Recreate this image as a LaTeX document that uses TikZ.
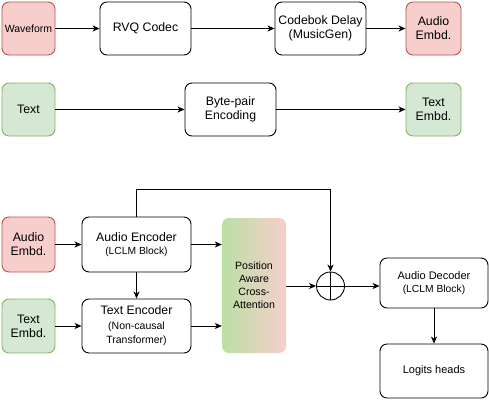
\documentclass[tikz,border=0pt]{standalone}
\usepackage{fontspec}
\setmainfont{Liberation Sans}
\usetikzlibrary{arrows.meta,positioning}
\definecolor{redF}{HTML}{F8CECC}
\definecolor{redD}{HTML}{B85450}
\definecolor{grnF}{HTML}{D5E8D4}
\definecolor{grnD}{HTML}{82B366}
\definecolor{gradG}{HTML}{B9E0A5}
\tikzset{
  box/.style={draw=black, line width=0.9pt, rounded corners=7pt, align=center, inner sep=0pt, font=\fontsize{12.3}{14}\selectfont},
  redbox/.style={box, draw=redD, fill=redF},
  grnbox/.style={box, draw=grnD, fill=grnF},
  arr/.style={-{Stealth[length=7pt,width=6pt,inset=2pt]}, line width=0.9pt},
  sub/.style={font=\fontsize{10.5}{12.5}\selectfont},
}
\begin{document}
\begin{tikzpicture}[x=1pt,y=-1pt]
\useasboundingbox (0,0) rectangle (489,402);
% row 1
\node[redbox, minimum width=53pt, minimum height=53pt, font=\fontsize{10.5}{12.5}\selectfont] (wave) at (28.5,28.5) {Waveform};
\node[box, minimum width=91pt, minimum height=53pt] (rvq) at (145.5,28.5) {RVQ Codec};
\node[box, minimum width=91pt, minimum height=53pt] (delay) at (320.5,28.5) {Codebok Delay\\(MusicGen)};
\node[redbox, minimum width=55pt, minimum height=53pt] (aemb) at (433.5,28.5) {Audio\\Embd.};
% row 2
\node[grnbox, minimum width=53pt, minimum height=53pt] (text) at (28.5,109.5) {Text};
\node[box, minimum width=91pt, minimum height=53pt] (bpe) at (230.5,109.5) {Byte-pair\\Encoding};
\node[grnbox, minimum width=55pt, minimum height=53pt] (temb) at (433.5,109.5) {Text\\Embd.};
% bottom
\node[redbox, minimum width=53pt, minimum height=55pt] (aembL) at (28.5,244.5) {Audio\\Embd.};
\node[grnbox, minimum width=53pt, minimum height=54pt] (tembL) at (28.5,326) {Text\\Embd.};
\node[box, minimum width=109pt, minimum height=55pt] (aenc) at (136.5,244.5) {Audio Encoder\\[-1pt]{\fontsize{10.3}{12}\selectfont (LCLM Block)}};
\node[box, minimum width=109pt, minimum height=54pt] (tenc) at (136.5,326) {Text Encoder\\[1pt]{\fontsize{10.5}{12.5}\selectfont (Non-causal}\\{\fontsize{10.5}{12.5}\selectfont Transformer)}};
\node[rounded corners=7pt, left color=gradG, right color=redF, minimum width=64pt, minimum height=135pt, align=center, inner sep=0pt, font=\fontsize{10.6}{13}\selectfont] (att) at (254,285.5) {Position\\Aware\\Cross-\\Attention};
\node[circle, draw, line width=0.9pt, minimum size=28pt, inner sep=0pt,
  path picture={\draw[line width=0.9pt] (path picture bounding box.north) -- (path picture bounding box.south) (path picture bounding box.west) -- (path picture bounding box.east);}] (plus) at (330.5,286) {};
\node[box, minimum width=108pt, minimum height=50pt] (dec) at (434,283) {{\fontsize{11}{13}\selectfont Audio Decoder}\\[-1pt]{\fontsize{10.3}{12}\selectfont (LCLM Block)}};
\node[box, minimum width=108pt, minimum height=54pt, font=\fontsize{11}{13}\selectfont] (logit) at (434,371) {Logits heads};
% connectors
\draw[arr] (wave) -- (rvq);
\draw[arr] (rvq) -- (delay);
\draw[arr] (delay) -- (aemb);
\draw[arr] (text) -- (bpe);
\draw[arr] (bpe) -- (temb);
\draw[arr] (aembL) -- (aenc);
\draw[arr] (tembL) -- (tenc);
\draw[arr] (aenc) -- (aenc -| att.west);
\draw[arr] (tenc) -- (tenc -| att.west);
\draw[arr] (aenc) -- (tenc);
\draw[arr] (aenc.north) -- ++(0,-27) -| (plus.north);
\draw[arr] (att.east |- plus) -- (plus.west);
\draw[arr] (plus.east) -- (dec.west |- plus);
\draw[arr] (dec) -- (logit);
\end{tikzpicture}
\end{document}
